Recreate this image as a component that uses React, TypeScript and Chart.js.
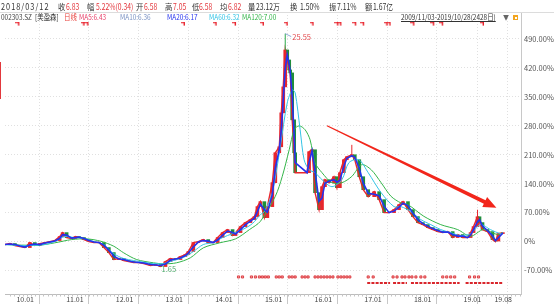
import React, { useEffect, useRef } from "react";
import { Chart, registerables } from "chart.js";

Chart.register(...registerables);

const FONT = '"Noto Sans CJK SC", "Noto Sans", sans-serif';

// ---------- data (x = decimal year on the trading-day axis, y = % change from first close) ----------
const closeYears = [
  2009.81, 2009.91, 2010.01, 2010.11, 2010.21, 2010.31, 2010.41, 2010.51, 2010.61, 2010.71,
  2010.81, 2010.91, 2010.97, 2011.05, 2011.15, 2011.23, 2011.30, 2011.40, 2011.50, 2011.60,
  2011.70, 2011.80, 2011.90, 2012.00, 2012.10, 2012.20, 2012.30, 2012.40, 2012.50, 2012.60,
  2012.74, 2012.84, 2012.94, 2013.04, 2013.14, 2013.24, 2013.34, 2013.44, 2013.50, 2013.60,
  2013.70, 2013.80, 2013.90, 2014.00, 2014.09, 2014.19, 2014.29, 2014.39, 2014.45, 2014.55,
  2014.65, 2014.75, 2014.83, 2014.89, 2014.95, 2015.03, 2015.09, 2015.19, 2015.25, 2015.33,
  2015.37, 2015.41, 2015.45, 2015.49, 2015.53, 2015.55, 2015.59, 2015.63, 2015.65, 2015.89,
  2015.93, 2015.99, 2016.05, 2016.13, 2016.19, 2016.25, 2016.33, 2016.43, 2016.49, 2016.55,
  2016.63, 2016.69, 2016.79, 2016.85, 2016.94, 2017.02, 2017.12, 2017.24, 2017.34, 2017.44,
  2017.54, 2017.64, 2017.74, 2017.82, 2017.92, 2018.02, 2018.12, 2018.22, 2018.32, 2018.42,
  2018.52, 2018.62, 2018.72, 2018.82, 2018.92, 2019.02, 2019.12, 2019.18, 2019.24, 2019.32,
  2019.36, 2019.42, 2019.52, 2019.62, 2019.68, 2019.74, 2019.83,
];
const closeValues = [
  -7.2, -4.8, -9.7, -12.1, -14.5, -2.4, -9.7, -4.8, -2.4, 0,
  2.4, 12.1, 21.7, 9.7, 7.2, 12.1, 9.7, 4.8, 0, -2.4,
  -2.4, -14.5, -26.6, -43.5, -41.0, -45.9, -48.3, -50.7, -50.7, -53.1,
  -57.9, -55.5, -60.4, -48.3, -41.0, -43.5, -36.2, -31.4, -24.1, -2.4,
  0, 4.8, -2.4, -2.4, 9.7, 21.7, 29.0, 14.5, 21.7, 36.2,
  45.9, 53.1, 60.4, 84.5, 96.6, 57.9, 84.5, 142.4, 214.8, 229.3,
  311.4, 374.2, 463.5, 439.3, 415.2, 408.0, 294.5, 214.8, 166.6, 166.6,
  217.3, 222.1, 118.3, 77.2, 132.8, 149.7, 142.4, 156.9, 130.4, 166.6,
  198.0, 205.2, 210.0, 198.0, 156.9, 125.5, 108.6, 120.7, 101.4, 70.0,
  70.0, 77.2, 89.3, 96.6, 77.2, 60.4, 45.9, 41.0, 33.8, 29.0,
  24.1, 21.7, 24.1, 9.7, 16.9, 9.7, 9.7, 21.7, 36.2, 60.0,
  45.9, 29.0, 24.1, 4.8, 0, 19.3, 21.7,
];

const ma60Years = [
  2009.81, 2010.21, 2010.61, 2010.81, 2011.01, 2011.21, 2011.40, 2011.60, 2011.80, 2011.90,
  2012.00, 2012.10, 2012.20, 2012.40, 2012.80, 2013.00, 2013.20, 2013.40, 2013.60, 2013.80,
  2014.00, 2014.19, 2014.39, 2014.59, 2014.79, 2014.95, 2015.03, 2015.19, 2015.35, 2015.49,
  2015.59, 2015.65, 2015.75, 2015.83, 2015.93, 2016.05, 2016.19, 2016.39, 2016.59, 2016.73,
  2016.93, 2017.12, 2017.38, 2017.64, 2017.78, 2017.98, 2018.18, 2018.38, 2018.58, 2018.78,
  2018.98, 2019.18, 2019.38, 2019.58, 2019.78, 2019.83,
];
const ma60Values = [
  -7.2, -9.7, -7.2, 0, 12.1, 9.7, 7.2, 0, -7.2, -19.3,
  -29.0, -36.2, -41.0, -45.9, -53.1, -53.1, -45.9, -38.6, -24.1, -7.2,
  -2.4, 9.7, 19.3, 29.0, 43.5, 65.2, 72.4, 118.3, 229.3, 335.5,
  366.9, 359.7, 270.4, 198.0, 173.8, 166.6, 149.7, 132.8, 149.7, 190.7,
  198.0, 166.6, 118.3, 84.5, 84.5, 72.4, 53.1, 41.0, 29.0, 21.7,
  14.5, 19.3, 41.0, 29.0, 19.3, 21.7,
];

const ma120Years = [
  2009.81, 2010.47, 2010.81, 2011.15, 2011.46, 2011.74, 2012.00, 2012.20, 2012.46, 2012.80,
  2013.00, 2013.26, 2013.54, 2013.80, 2014.13, 2014.45, 2014.73, 2014.95, 2015.25, 2015.39,
  2015.53, 2015.63, 2015.73, 2015.85, 2015.95, 2016.05, 2016.19, 2016.39, 2016.59, 2016.79,
  2016.99, 2017.18, 2017.38, 2017.58, 2017.78, 2017.92, 2018.24, 2018.58, 2018.92, 2019.18,
  2019.44, 2019.72, 2019.83,
];
const ma120Values = [
  -7.2, -8.9, -3.1, 4.8, 6.5, 0.7, -11.3, -27.3, -43.5, -51.4,
  -53.8, -51.4, -39.3, -15.2, -3.1, 6.5, 29.0, 49.0, 109.4, 157.6,
  222.1, 270.4, 280.0, 270.4, 246.2, 190.7, 166.6, 142.4, 142.4, 157.6,
  185.9, 173.8, 142.4, 109.4, 93.4, 89.3, 61.1, 41.0, 29.0, 12.8,
  29.0, 16.9, 21.7,
];

const wickYears = [2015.45, 2016.79, 2019.32];
const wickLows = [463.5, 210.0, 60.0];
const wickHighs = [503.0, 234.0, 77.0];
const wickUp = [false, true, true];

const xTickYears = [2010, 2011, 2012, 2013, 2014, 2015, 2016, 2017, 2018, 2019, 2019.62];
const xTickLabels = ["10.01", "11.01", "12.01", "13.01", "14.01", "15.01", "16.01", "17.01", "18.01", "19.01", "19.08"];
const yTickValues = [-70, 0, 70, 140, 210, 280, 350, 420, 490];

const topMarkYears = [
  2010.07, 2011.38, 2011.46, 2013.40, 2014.04, 2014.43, 2014.99, 2015.47, 2015.99, 2016.49,
  2016.55, 2016.85, 2017.01, 2017.48, 2017.54, 2018.02, 2018.42, 2018.60, 2019.42,
];
const topMarkLevel = 526;

const dotMarkYears = [
  2014.51, 2014.59, 2014.77, 2014.85, 2014.93, 2014.99, 2015.05, 2015.11, 2015.27, 2015.33,
  2015.39, 2015.53, 2015.59, 2015.65, 2015.79, 2015.85, 2015.91, 2016.05, 2016.11, 2016.17,
  2016.23, 2016.29, 2016.35, 2016.41, 2016.51, 2016.57, 2016.63, 2016.69, 2016.75, 2017.12,
  2017.22, 2017.62, 2017.70, 2017.80, 2017.86, 2017.94, 2018.00, 2018.08, 2018.18, 2018.26,
  2018.62, 2018.70, 2018.78, 2018.86, 2019.16, 2019.26, 2019.34,
];
const dotMarkLevel = -85.6;

const dashSegments = [
  [2017.10, 2017.56],
  [2017.62, 2017.90],
  [2017.98, 2018.96],
  [2019.08, 2019.83],
];
const dashMarkLevel = -100.1;

const peakLabel = { year: 2015.45, value: 503.0, text: "25.55" };
const lowLabel = { year: 2012.94, value: -60.4, text: "1.65" };
const trendArrow = { fromYear: 2016.29, fromValue: 280, toYear: 2019.7, toValue: 82 };

// header texts
const quoteDate = "2018/03/12";
const quoteLabels = ["收", "幅", "开", "高", "低", "均", "量", "换", "振", "额"];
const quoteValues = ["6.83", "5.22%(0.34)", "6.58", "7.05", "6.58", "6.82", "23.12万", "1.50%", "7.11%", "1.67亿"];
const quoteRed = [true, true, true, true, true, true, false, false, false, false];
const stockCode = "002303.SZ";
const stockName = "[美盈森]";
const periodName = "日线";
const maLabels = ["MA5:6.43", "MA10:6.36", "MA20:6.17", "MA60:6.32", "MA120:7.00"];
const rangeText = "2009/11/03-2019/10/28(2428日)";

// ---------- styling ----------
const X_MIN = 2009.81;
const X_MAX = 2020.195;
const Y_MIN = -126.8;
const Y_MAX = 555.3;
const RED = "#e8262d";
const GREEN_K = "#1f8f3a";
const MA_COLORS = ["#e8416a", "#7b93c4", "#2433ee", "#33c4e6", "#34b54a"];
const labelX = [58, 87, 136, 165, 192, 220, 248, 290, 329, 365];
const valueX = [66, 96, 144, 173, 199, 228, 256, 300, 337, 373];
const maX = [79, 120, 167, 209, 242];

const overlayPlugin = {
  id: "overlay",
  afterDatasetsDraw(chart: any) {
    const { ctx, scales } = chart;
    const x = scales.x;
    const y = scales.y;
    ctx.save();
    // peak label
    const px = x.getPixelForValue(peakLabel.year);
    const py = y.getPixelForValue(peakLabel.value);
    ctx.strokeStyle = "#8fa8d8";
    ctx.lineWidth = 1;
    ctx.beginPath();
    ctx.moveTo(px, py);
    ctx.lineTo(px + 6, py + 3);
    ctx.stroke();
    ctx.fillStyle = "#e2474b";
    ctx.font = `7.5px ${FONT}`;
    ctx.textBaseline = "middle";
    ctx.textAlign = "left";
    ctx.fillText(peakLabel.text, px + 7, py + 3.5);
    // low label
    const lx = x.getPixelForValue(lowLabel.year);
    const ly = y.getPixelForValue(lowLabel.value);
    ctx.fillStyle = "#4caa6a";
    ctx.fillText(lowLabel.text, lx + 1, ly + 3);
    // trend arrow
    const x1 = x.getPixelForValue(trendArrow.fromYear);
    const y1 = y.getPixelForValue(trendArrow.fromValue);
    const x2 = x.getPixelForValue(trendArrow.toYear);
    const y2 = y.getPixelForValue(trendArrow.toValue);
    const ang = Math.atan2(y2 - y1, x2 - x1);
    const c = Math.cos(ang), s = Math.sin(ang);
    const nx = -s, ny = c;
    const head = 13, headW = 5.5;
    const bx = x2 - head * c, by = y2 - head * s;
    ctx.fillStyle = "#f2261b";
    ctx.beginPath();
    ctx.moveTo(x1 + nx * 0.6, y1 + ny * 0.6);
    ctx.lineTo(bx + nx * 2, by + ny * 2);
    ctx.lineTo(bx + nx * headW, by + ny * headW);
    ctx.lineTo(x2, y2);
    ctx.lineTo(bx - nx * headW, by - ny * headW);
    ctx.lineTo(bx - nx * 2, by - ny * 2);
    ctx.lineTo(x1 - nx * 0.6, y1 - ny * 0.6);
    ctx.closePath();
    ctx.fill();
    // small month ticks under the time axis
    ctx.strokeStyle = "#c4c4c4";
    ctx.lineWidth = 1;
    const ab = chart.chartArea.bottom;
    ctx.beginPath();
    for (let m = 0; m < 130; m++) {
      const v = 2009 + 11 / 12 + m / 12;
      if (v > X_MAX) break;
      const tx = Math.round(x.getPixelForValue(v)) + 0.5;
      ctx.moveTo(tx, ab);
      ctx.lineTo(tx, ab + 2.5);
    }
    ctx.stroke();
    ctx.restore();
  },
};

export default function App() {
  const ref = useRef<HTMLCanvasElement>(null);

  useEffect(() => {
    const canvas = ref.current;
    if (!canvas) return;

    const flag = document.createElement("canvas");
    flag.width = 5;
    flag.height = 5;
    const fc = flag.getContext("2d")!;
    fc.fillStyle = "#e8202a";
    fc.fillRect(0, 0, 4, 1.4);
    fc.fillRect(2.6, 0, 1.4, 4);

    const pts = (xs: number[], ys: number[]) => xs.map((v, i) => ({ x: v, y: ys[i] }));
    const ma20 = closeValues.map((v, i) => (i === 0 ? v : (v + closeValues[i - 1]) / 2));
    const bodies = closeValues.map((v, i) => ({
      x: closeYears[i],
      y: [i === 0 ? v : closeValues[i - 1], v],
    }));
    const bodyColors = closeValues.map((v, i) => (i > 0 && v < closeValues[i - 1] ? GREEN_K : RED));
    const wicks: any[] = [];
    wickYears.forEach((v, i) => {
      wicks.push({ x: v, y: wickLows[i] }, { x: v, y: wickHighs[i] }, { x: v, y: null });
    });
    const dashes: any[] = [];
    dashSegments.forEach(([a, b]) => {
      dashes.push({ x: a, y: dashMarkLevel }, { x: b, y: dashMarkLevel }, { x: b, y: null });
    });

    const chart = new Chart(canvas, {
      type: "line",
      data: {
        datasets: [
          {
            label: "top marks",
            data: topMarkYears.map((v) => ({ x: v, y: topMarkLevel })),
            showLine: false,
            pointStyle: flag as any,
            pointRadius: 3,
            order: 0,
          },
          {
            label: "dots",
            data: dotMarkYears.map((v) => ({ x: v, y: dotMarkLevel })),
            showLine: false,
            pointStyle: "rect",
            pointRadius: 1.5,
            pointBackgroundColor: "#f3a8a8",
            pointBorderColor: "#d9262c",
            pointBorderWidth: 0.8,
            order: 0,
          },
          {
            label: "dashes",
            data: dashes,
            borderColor: "#d9262c",
            borderWidth: 2,
            borderDash: [3, 1.2],
            pointRadius: 0,
            spanGaps: false,
            order: 0,
          },
          {
            label: "MA20",
            data: pts(closeYears, ma20),
            borderColor: MA_COLORS[2],
            borderWidth: 1.6,
            pointRadius: 0,
            order: 1,
          },
          {
            label: "MA60",
            data: pts(ma60Years, ma60Values),
            borderColor: MA_COLORS[3],
            borderWidth: 1,
            pointRadius: 0,
            tension: 0.3,
            order: 2,
          },
          {
            label: "MA120",
            data: pts(ma120Years, ma120Values),
            borderColor: MA_COLORS[4],
            borderWidth: 1,
            pointRadius: 0,
            tension: 0.3,
            order: 3,
          },
          {
            label: "wicks",
            data: wicks,
            borderColor: GREEN_K,
            segment: {
              borderColor: (ctx: any) => (wickUp[Math.floor(ctx.p0DataIndex / 3)] ? RED : "#2aa84a"),
            },
            borderWidth: 1,
            pointRadius: 0,
            spanGaps: false,
            order: 4,
          },
          {
            label: "close",
            data: pts(closeYears, closeValues),
            borderColor: RED,
            borderWidth: 1.4,
            pointRadius: 0,
            order: 5,
          },
          {
            type: "bar",
            label: "body",
            data: bodies as any,
            backgroundColor: bodyColors,
            barThickness: 3,
            order: 6,
          } as any,
        ],
      },
      options: {
        responsive: false,
        animation: false,
        events: [],
        layout: { padding: { top: 12, left: 0, right: 0, bottom: 0 } },
        plugins: { legend: { display: false }, tooltip: { enabled: false } },
        scales: {
          x: {
            type: "linear",
            min: X_MIN,
            max: X_MAX,
            offset: false,
            afterBuildTicks: (s: any) => {
              s.ticks = xTickYears.map((v) => ({ value: v }));
            },
            afterFit: (s: any) => {
              s.height = 11;
              s.paddingLeft = 0;
              s.paddingRight = 0;
            },
            ticks: {
              autoSkip: false,
              maxRotation: 0,
              align: "start",
              labelOffset: 2,
              padding: -9,
              color: "#444",
              font: { size: 7, family: FONT },
              callback: (_v: any, i: number) => xTickLabels[i],
            },
            grid: { color: "#e0e0e0", tickLength: 10, tickColor: "#c8c8c8" },
            border: { display: true, color: "#bdbdbd", dash: [1, 2] },
          },
          y: {
            type: "linear",
            position: "right",
            min: Y_MIN,
            max: Y_MAX,
            stacked: false,
            afterBuildTicks: (s: any) => {
              s.ticks = yTickValues.map((v) => ({ value: v }));
            },
            afterFit: (s: any) => {
              s.width = 33;
              s.paddingTop = 0;
              s.paddingBottom = 0;
            },
            ticks: {
              autoSkip: false,
              padding: 3,
              color: "#555",
              font: { size: 7.5, family: FONT },
              callback: (v: any) => (v === 0 ? "0%" : Number(v).toFixed(2) + "%"),
            },
            grid: { color: "#e0e0e0", drawTicks: false },
            border: { display: true, color: "#c8c8c8", dash: [1, 2] },
          },
        },
      },
      plugins: [overlayPlugin],
    });
    return () => chart.destroy();
  }, []);

  const txt = (extra: React.CSSProperties, sx = 0.86): React.CSSProperties => ({
    position: "absolute",
    whiteSpace: "nowrap",
    transform: `scaleX(${sx})`,
    transformOrigin: "left center",
    ...extra,
  });

  return (
    <div
      style={{
        position: "absolute",
        left: 0,
        top: 0,
        width: 554,
        height: 305,
        background: "#fff",
        overflow: "hidden",
        fontFamily: FONT,
      }}
    >
      <canvas
        ref={ref}
        width={554}
        height={305}
        style={{ position: "absolute", left: 0, top: 0, width: 554, height: 305 }}
      />
      {/* row 1 */}
      <div style={{ position: "absolute", left: 0, top: 0, width: 554, height: 12, fontSize: 8.5, lineHeight: "12px" }}>
        <span style={txt({ left: 1, top: 0, color: "#333", letterSpacing: 1.2 })}>{quoteDate}</span>
        {quoteLabels.map((l, i) => (
          <span key={"l" + i} style={txt({ left: labelX[i], top: 0, color: "#333" })}>
            {l}
          </span>
        ))}
        {quoteValues.map((v, i) => (
          <span key={"v" + i} style={txt({ left: valueX[i], top: 0, color: quoteRed[i] ? "#e3363c" : "#333" }, 0.8)}>
            {v}
          </span>
        ))}
      </div>
      <div style={{ position: "absolute", left: 0, top: 12, width: 554, height: 1, background: "#dcdcdc" }} />
      {/* row 2 */}
      <div style={{ position: "absolute", left: 0, top: 12, width: 554, height: 10, fontSize: 7.5, lineHeight: "10px" }}>
        <span style={txt({ left: 1, top: 0, color: "#444" })}>{stockCode}</span>
        <span style={txt({ left: 35, top: 0, color: "#333" })}>{stockName}</span>
        <span style={txt({ left: 64, top: 0, color: "#e8413c" })}>{periodName}</span>
        {maLabels.map((m, i) => (
          <span key={"m" + i} style={txt({ left: maX[i], top: 0, color: MA_COLORS[i] })}>
            {m}
          </span>
        ))}
        <span style={txt({ left: 401, top: 0, color: "#333", textDecoration: "underline" })}>{rangeText}</span>
        <span style={txt({ left: 503, top: 0, color: "#666", fontSize: 7 })}>▼</span>
        <div style={{ position: "absolute", left: 513, top: 3, width: 5, height: 5, background: "#f2a51f" }}>
          <div style={{ position: "absolute", left: 2, top: 2, width: 1.5, height: 1.5, background: "#fff" }} />
        </div>
      </div>
      <div style={{ position: "absolute", left: 0, top: 62, width: 1, height: 37, background: "#e2383d" }} />
    </div>
  );
}
